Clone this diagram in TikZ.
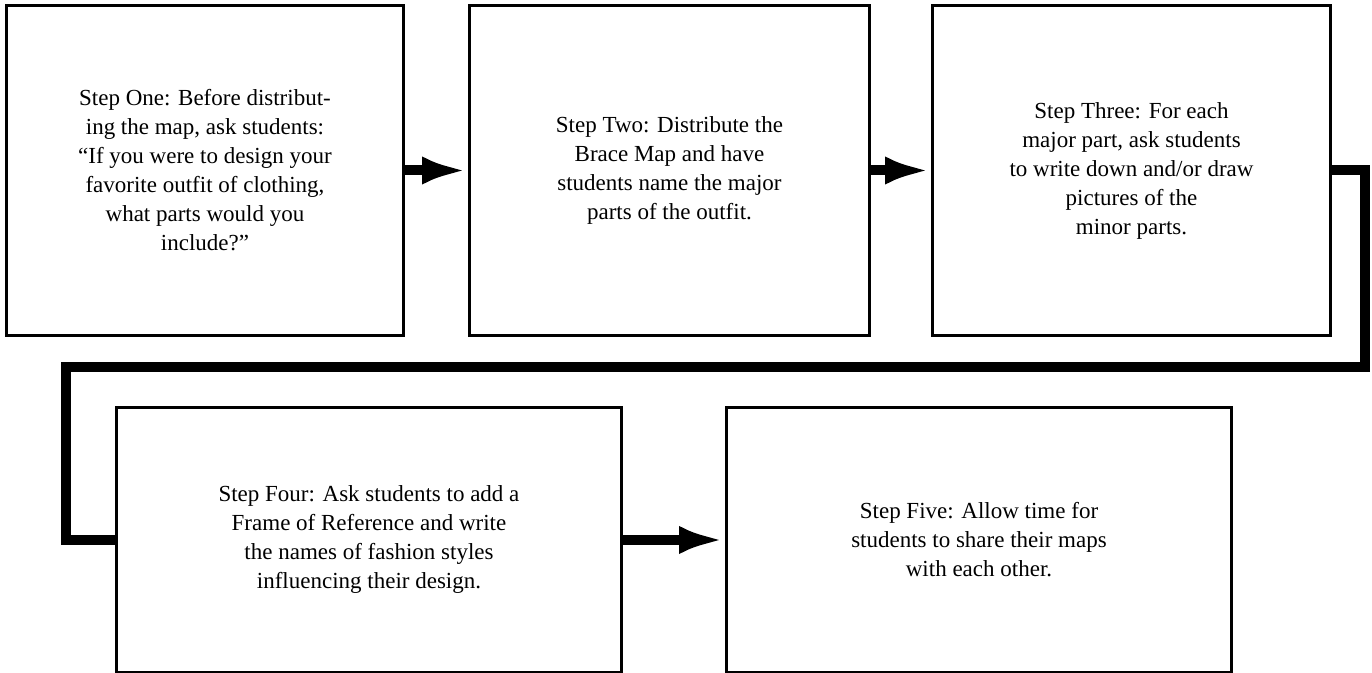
\documentclass[tikz,border=0pt]{standalone}
\usepackage{fontspec}
\setmainfont{Liberation Serif}
\usetikzlibrary{arrows.meta,positioning}

\begin{document}
\begin{tikzpicture}[
  node distance=15mm and 15mm,
  stepbox/.style={draw, line width=1.5pt, align=center, inner sep=4pt,
                  font=\fontsize{11.5}{14.5}\selectfont},
  toprow/.style={stepbox, minimum height=165pt},
  lowrow/.style={stepbox, minimum height=132.5pt, minimum width=252.5pt},
  arrow/.style={-{Latex[length=23pt, width=14pt]}, line width=5pt},
  link/.style={line width=5pt, line join=miter}
]
\useasboundingbox (0,0) rectangle (686pt,-336.5pt);

% first row of steps
\node[toprow, minimum width=198.5pt, anchor=north west] (one) at (2.5pt,-2pt)
  {Step One: Before distribut-\\ing the map, ask students:\\
   ``If you were to design your\\favorite outfit of clothing,\\
   what parts would you\\include?''};
\node[toprow, minimum width=200pt, right=31.5pt of one] (two)
  {Step Two: Distribute the\\Brace Map and have\\
   students name the major\\parts of the outfit.};
\node[toprow, minimum width=199pt, right=30pt of two] (three)
  {Step Three: For each\\major part, ask students\\
   to write down and/or draw\\pictures of the\\minor parts.};

% second row
\node[lowrow, anchor=north west] (four) at (57.5pt,-203pt)
  {Step Four: Ask students to add a\\Frame of Reference and write\\
   the names of fashion styles\\influencing their design.};
\node[lowrow, right=51pt of four] (five)
  {Step Five: Allow time for\\students to share their maps\\
   with each other.};

% turning points of the long connector
\coordinate (turnright) at (682.5pt,-183.5pt);
\coordinate (turnleft) at (33pt,-183.5pt);

\draw[arrow] (one) -- (two);
\draw[arrow] (two) -- (three);
\draw[link] (three.east) -- (three.east -| turnright) -- (turnright)
  -- (turnleft) |- (four.west);
\draw[arrow] (four) -- (five);
\end{tikzpicture}
\end{document}
